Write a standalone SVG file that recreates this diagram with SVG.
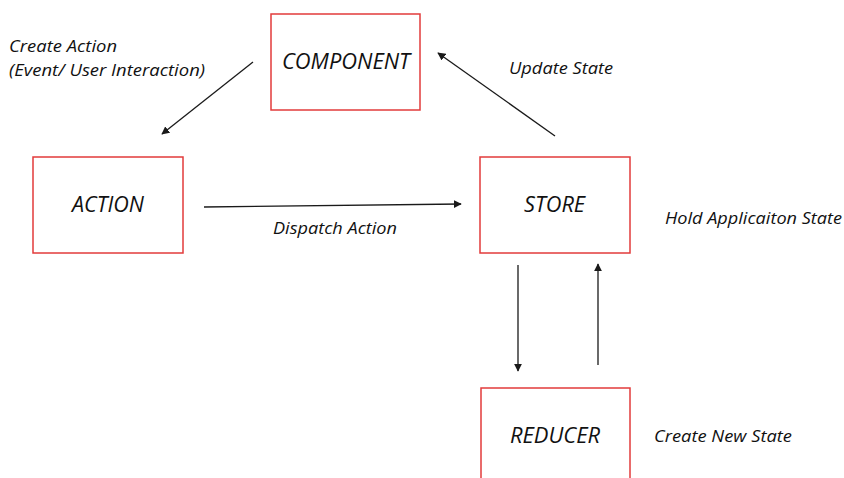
<svg xmlns="http://www.w3.org/2000/svg" width="844" height="478" viewBox="0 0 844 478">
  <style>
    .box { fill: #ffffff; stroke: #e23b3b; stroke-width: 1.5; }
    .node-label { font-family: "Open Sans", "Liberation Sans", sans-serif; font-style: italic; font-size: 21px; fill: #111111; }
    .note { font-family: "Open Sans", "Liberation Sans", sans-serif; font-style: italic; font-size: 16.5px; fill: #111111; }
    .edge { stroke: #1a1a1a; stroke-width: 1.3; fill: none; marker-end: url(#arrow); }
  </style>
  <defs>
    <marker id="arrow" viewBox="0 0 10 10" refX="9" refY="5" markerWidth="8" markerHeight="8" markerUnits="userSpaceOnUse" orient="auto">
      <path d="M0,0 L10,5 L0,10 Z" fill="#1a1a1a"/>
    </marker>
  </defs>
  <rect width="844" height="478" fill="#ffffff"/>

  <!-- connectors -->
  <g id="connectors">
    <line class="edge" x1="253" y1="62" x2="162" y2="134"/>
    <line class="edge" x1="204" y1="207" x2="461" y2="204"/>
    <line class="edge" x1="555" y1="136" x2="438" y2="53"/>
    <line class="edge" x1="518" y1="265" x2="518" y2="371"/>
    <line class="edge" x1="598" y1="365" x2="598" y2="264"/>
  </g>

  <!-- nodes -->
  <g id="component">
    <rect class="box" x="271" y="14" width="149" height="96"/>
    <text class="node-label" x="282" y="69" textLength="128" lengthAdjust="spacingAndGlyphs">COMPONENT</text>
  </g>
  <g id="action">
    <rect class="box" x="33" y="157" width="150" height="96"/>
    <text class="node-label" x="72" y="212" textLength="72" lengthAdjust="spacingAndGlyphs">ACTION</text>
  </g>
  <g id="store">
    <rect class="box" x="480" y="157" width="150" height="96"/>
    <text class="node-label" x="524" y="212" textLength="61" lengthAdjust="spacingAndGlyphs">STORE</text>
  </g>
  <g id="reducer">
    <rect class="box" x="481" y="388" width="149" height="100"/>
    <text class="node-label" x="510" y="443" textLength="90" lengthAdjust="spacingAndGlyphs">REDUCER</text>
  </g>

  <!-- annotations -->
  <g id="notes">
    <text class="note" x="9" y="52" textLength="108" lengthAdjust="spacingAndGlyphs">Create Action</text>
    <text class="note" x="9" y="76" textLength="196" lengthAdjust="spacingAndGlyphs">(Event/ User Interaction)</text>
    <text class="note" x="509" y="74" textLength="104" lengthAdjust="spacingAndGlyphs">Update State</text>
    <text class="note" x="273" y="234" textLength="124" lengthAdjust="spacingAndGlyphs">Dispatch Action</text>
    <text class="note" x="665" y="224" textLength="177" lengthAdjust="spacingAndGlyphs">Hold Applicaiton State</text>
    <text class="note" x="654" y="442" textLength="138" lengthAdjust="spacingAndGlyphs">Create New State</text>
  </g>
</svg>
